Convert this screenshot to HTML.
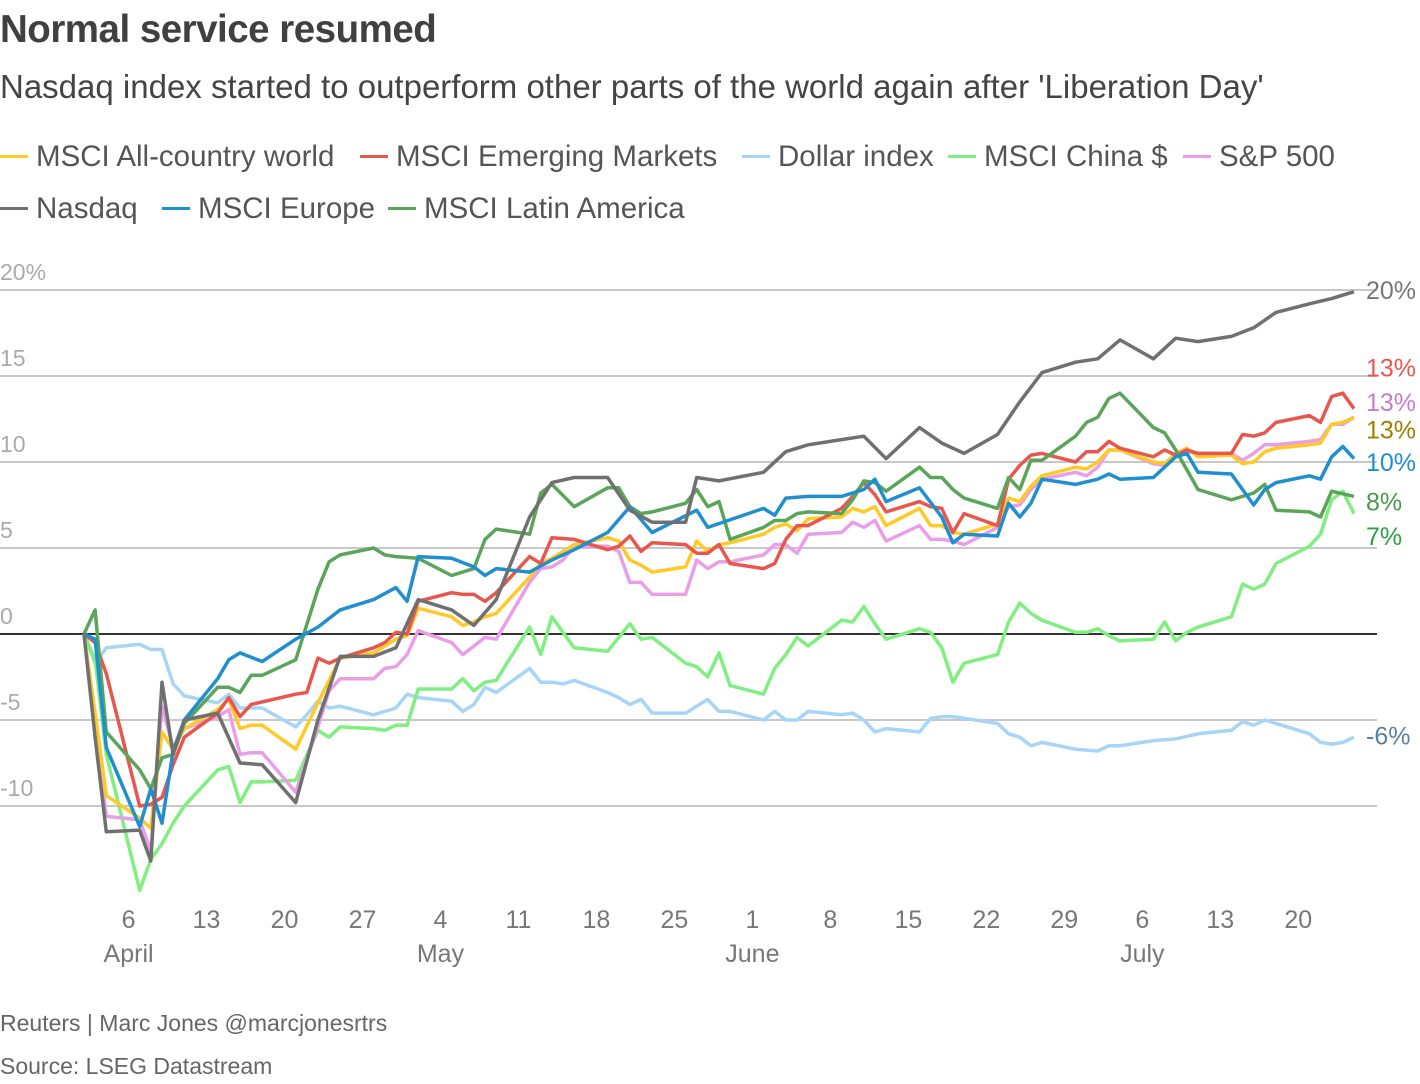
<!DOCTYPE html>
<html><head><meta charset="utf-8">
<style>
body{margin:0;background:#fff;font-family:"Liberation Sans",sans-serif;}
#wrap{position:relative;width:1420px;height:1084px;overflow:hidden;}
.t{position:absolute;white-space:nowrap;}
.leg{position:absolute;font-size:29.5px;color:#555;white-space:nowrap;}
.leg i{display:inline-block;width:28px;height:3px;vertical-align:middle;margin-right:8px;position:relative;top:-2px;}
</style></head>
<body>
<div id="wrap">
<div class="t" style="left:0;top:8px;font-size:38.5px;font-weight:bold;color:#404040;letter-spacing:-0.5px;">Normal service resumed</div>
<div class="t" style="left:0;top:68px;font-size:33px;color:#444;">Nasdaq index started to outperform other parts of the world again after 'Liberation Day'</div>
<div class="leg" style="left:0;top:140px;"><i style="background:#ffc928"></i>MSCI All-country world</div>
<div class="leg" style="left:360px;top:140px;"><i style="background:#e8574d"></i>MSCI Emerging Markets</div>
<div class="leg" style="left:742px;top:140px;"><i style="background:#a6d5f7"></i>Dollar index</div>
<div class="leg" style="left:948px;top:140px;"><i style="background:#80ee80"></i>MSCI China $</div>
<div class="leg" style="left:1183px;top:140px;"><i style="background:#ea9ee8"></i>S&amp;P 500</div>
<div class="leg" style="left:0;top:192px;"><i style="background:#707070"></i>Nasdaq</div>
<div class="leg" style="left:162px;top:192px;"><i style="background:#1f8fd0"></i>MSCI Europe</div>
<div class="leg" style="left:388px;top:192px;"><i style="background:#5aa55a"></i>MSCI Latin America</div>
<svg id="chart" width="1420" height="1084" style="position:absolute;left:0;top:0;"></svg>
<div class="t" style="left:0;top:1010px;font-size:23px;color:#666;">Reuters | Marc Jones @marcjonesrtrs</div>
<div class="t" style="left:0;top:1053px;font-size:23px;color:#666;">Source: LSEG Datastream</div>
</div>
<script>
const yTicks=[20,15,10,5,0,-5,-10];
const yTickLabels=["20%","15","10","5","0","-5","-10"];
const xTickDays=[4,11,18,25,32,39,46,53,60,67,74,81,88,95,102,109];
const xTickLabels=["6","13","20","27","4","11","18","25","1","8","15","22","29","6","13","20"];
const monthDays=[4,32,60,95];
const monthLabels=["April","May","June","July"];

const nasdaqDays=[0,1,2,5,6,7,8,9,12,14,16,19,21,23,26,28,30,33,35,37,40,42,44,47,49,51,54,55,57,61,63,65,68,70,72,75,77,79,82,84,86,89,91,93,96,98,100,103,105,107,110,112,114];
const nasdaqVals=[0,-6,-11.5,-11.4,-13.2,-2.8,-7,-5,-4.6,-7.5,-7.6,-9.8,-5,-1.3,-1.3,-0.8,2,1.4,0.5,2,6.8,8.8,9.1,9.1,7.2,6.5,6.5,9.1,8.9,9.4,10.6,11,11.3,11.5,10.2,12,11.1,10.5,11.6,13.5,15.2,15.8,16,17.1,16,17.2,17,17.3,17.8,18.7,19.2,19.5,19.9];

const latamDays=[0,1,2,5,6,7,8,9,12,13,14,15,16,19,21,22,23,26,27,28,30,33,35,36,37,39,40,41,42,44,47,48,49,50,51,54,55,56,57,58,61,62,63,64,65,68,69,70,71,72,75,76,77,78,79,82,83,84,85,86,89,90,91,92,93,96,97,98,100,103,105,106,107,110,111,112,114];
const latamVals=[0,1.4,-5.7,-7.9,-9,-7.2,-7,-5.2,-3.1,-3.1,-3.4,-2.4,-2.4,-1.5,2.6,4.2,4.6,5,4.6,4.5,4.4,3.4,3.8,5.5,6.1,5.9,5.8,8.2,8.7,7.4,8.5,8.5,7.4,7,7.1,7.6,8.4,7.4,7.7,5.5,6.2,6.6,6.6,7,7.1,7,7.8,8.9,8.8,8.3,9.7,9.1,9.1,8.4,7.9,7.3,9.1,8.4,10.1,10.1,11.5,12.3,12.6,13.7,14,12,11.7,10.7,8.4,7.8,8.2,8.7,7.2,7.1,6.8,8.3,8];

const europeDays=[0,1,2,5,6,7,8,9,12,13,14,16,19,21,23,26,28,29,30,33,35,36,37,40,42,44,47,49,51,55,56,61,62,63,65,68,70,71,72,75,77,78,79,82,83,84,85,86,89,91,92,93,96,98,99,100,103,105,106,107,110,111,112,113,114];
const europeVals=[0,-0.3,-6.6,-11.2,-9,-11,-6.8,-5,-2.6,-1.5,-1.1,-1.6,-0.3,0.4,1.4,2,2.7,1.9,4.5,4.4,3.9,3.4,3.8,3.6,4.3,4.9,5.9,7.4,5.9,7.2,6.2,7.3,6.9,7.9,8,8,8.4,9,7.7,8.5,6.8,5.3,5.8,5.7,7.6,6.8,7.6,9,8.7,9,9.3,9,9.1,10.3,10.5,9.4,9.3,7.5,8.4,8.8,9.2,9,10.3,10.9,10.2];

const emDays=[0,1,2,5,6,7,8,9,12,13,14,15,19,20,21,22,23,26,27,28,29,30,33,34,35,36,37,40,41,42,44,47,48,49,50,51,54,55,56,57,58,61,62,63,64,65,68,69,70,71,72,75,76,77,78,79,82,83,84,85,86,89,90,91,92,93,96,97,98,99,100,103,104,105,106,107,110,111,112,113,114];
const emVals=[0,-0.5,-2.3,-10,-9.9,-9.5,-7.6,-6,-4.6,-3.7,-4.8,-4.1,-3.5,-3.4,-1.4,-1.7,-1.4,-0.8,-0.5,0.1,0,1.9,2.4,2.3,2.3,1.9,2.4,4.5,4.1,5.6,5.5,4.9,5.1,5.7,4.8,5.3,5.2,4.7,4.7,5.2,4.1,3.8,4.1,5.5,6.3,6.3,7.3,8,8.8,8.1,7.1,7.7,7.4,7.3,5.9,7,6.3,9,9.8,10.4,10.5,10,10.6,10.6,11.2,10.8,10.3,10.7,10.4,10.7,10.5,10.5,11.6,11.5,11.7,12.3,12.7,12.3,13.8,14,13.1];

const acwiDays=[0,1,2,5,6,7,8,9,12,13,14,15,16,19,21,23,26,28,29,30,33,34,35,36,37,40,41,42,44,47,48,49,50,51,54,55,56,57,58,61,62,63,64,65,68,69,70,71,72,75,76,77,78,79,82,83,84,85,86,89,90,91,92,93,96,97,98,99,100,103,104,105,106,107,110,111,112,113,114];
const acwiVals=[0,-4.6,-9.4,-10.7,-11.3,-5.7,-6.7,-5.5,-4.4,-3.8,-5.5,-5.3,-5.3,-6.7,-4,-1.4,-1.1,-0.3,-0.1,1.5,1,0.5,0.7,1,1.2,3.3,4.1,4.4,5.2,5.6,5.4,4.3,4,3.6,3.9,5.4,4.8,5.2,5.3,5.8,6.2,6.4,6,6.7,6.8,7.3,7.1,7.4,6.3,7.3,6.3,6.3,5.9,5.8,6.4,7.9,7.7,8.6,9.2,9.7,9.6,10,10.7,10.7,10,9.9,10.5,10.8,10.3,10.4,9.9,10,10.6,10.8,11,11.1,12.2,12.3,12.6];

const spDays=[0,2,5,6,7,8,9,12,13,14,15,16,19,21,22,23,26,27,28,29,30,33,34,35,36,37,40,41,42,43,44,47,48,49,50,51,54,55,56,57,58,61,62,63,64,65,68,69,70,71,72,75,76,77,78,79,82,83,84,85,86,89,90,91,92,93,96,97,98,99,100,103,104,105,106,107,110,111,112,113,114];
const spVals=[0,-10.6,-10.8,-12.6,-4.2,-6.6,-5.5,-4.8,-4.4,-7,-6.9,-6.9,-9.2,-5.4,-3.3,-2.6,-2.6,-2,-1.9,-1.2,0.2,-0.5,-1.2,-0.7,-0.2,-0.3,3,3.8,3.9,4.3,5.1,5.1,4.8,3,3,2.3,2.3,4.3,3.8,4.2,4.2,4.6,5.2,5.2,4.7,5.8,5.9,6.5,6.2,6.6,5.4,6.3,5.5,5.5,5.4,5.2,6.2,7.4,7.5,8.4,9,9.4,9.2,9.7,10.7,10.7,9.9,9.8,10.4,10.6,10.5,10.5,10.1,10.5,11,11,11.2,11.3,12.2,12.2,12.6];

const chinaDays=[0,1,2,5,6,7,8,9,12,13,14,15,16,19,21,22,23,26,27,28,29,30,33,34,35,36,37,40,41,42,44,47,49,50,51,54,55,56,57,58,61,62,63,64,65,68,69,70,71,72,75,76,77,78,79,82,83,84,85,86,89,90,91,92,93,96,97,98,99,100,103,104,105,106,107,110,111,112,113,114];
const chinaVals=[0,-1.5,-7,-14.9,-13.1,-12.2,-11,-10,-7.9,-7.7,-9.8,-8.6,-8.6,-8.5,-5.6,-6,-5.4,-5.5,-5.6,-5.3,-5.3,-3.2,-3.2,-2.6,-3.3,-2.8,-2.7,0.4,-1.2,1,-0.8,-1,0.6,-0.3,-0.2,-1.7,-1.9,-2.5,-1.1,-3,-3.5,-2,-1.2,-0.2,-0.7,0.8,0.7,1.6,0.6,-0.3,0.3,0.1,-0.8,-2.8,-1.7,-1.2,0.7,1.8,1.2,0.8,0.1,0.1,0.3,-0.1,-0.4,-0.3,0.7,-0.4,0.1,0.4,1,2.9,2.6,2.9,4.1,5.1,5.8,7.8,8.3,7];

const dollarDays=[0,1,2,5,6,7,8,9,12,13,14,15,16,19,20,21,22,23,26,28,29,30,33,34,35,36,37,40,41,42,43,44,47,48,49,50,51,54,55,56,57,58,61,62,63,64,65,68,69,70,71,72,75,76,77,78,79,82,83,84,85,86,89,91,92,93,96,98,100,103,104,105,106,107,110,111,112,113,114];
const dollarVals=[0,-1.7,-0.8,-0.6,-0.9,-0.9,-2.9,-3.6,-4,-3.5,-4.3,-4.3,-4.3,-5.4,-4.7,-3.9,-4.3,-4.2,-4.7,-4.3,-3.5,-3.7,-3.9,-4.5,-4.1,-3.1,-3.4,-2,-2.8,-2.8,-2.9,-2.7,-3.4,-3.7,-4.1,-3.8,-4.6,-4.6,-4.2,-3.8,-4.5,-4.5,-5,-4.5,-5,-5,-4.5,-4.7,-4.6,-5,-5.7,-5.5,-5.7,-4.9,-4.8,-4.8,-4.9,-5.2,-5.8,-6,-6.5,-6.3,-6.7,-6.8,-6.5,-6.5,-6.2,-6.1,-5.8,-5.6,-5.1,-5.3,-5,-5.2,-5.8,-6.3,-6.4,-6.3,-6];

const endLabels=["20%","13%","13%","13%","10%","8%","7%","-6%"];
const endLabelY=[20,15.5,13.5,11.9,10,7.7,5.7,-5.9];

const svg=document.getElementById('chart');
const NS='http://www.w3.org/2000/svg';
const X0=84, DX=11.14, Y0=634, DY=17.2;
function xs(d){return X0+d*DX;}
function ys(v){return Y0-v*DY;}
function mk(tag,attrs){const e=document.createElementNS(NS,tag);for(const k in attrs)e.setAttribute(k,attrs[k]);svg.appendChild(e);return e;}

yTicks.forEach((v,i)=>{
  if(v!==0){
    const g=mk('line',{x1:0,x2:1377,y1:ys(v),y2:ys(v),stroke:'#c8c8c8','stroke-width':2});
    
    
  }
  const t=mk('text',{x:0,y:ys(v)-10,'font-size':23,fill:'#aaa','font-family':'Liberation Sans, sans-serif'});
  t.textContent=yTickLabels[i];
  
  
});
xTickDays.forEach((d,i)=>{
  const t=mk('text',{x:xs(d),y:928,'font-size':25,fill:'#777','text-anchor':'middle','font-family':'Liberation Sans, sans-serif'});
  t.textContent=xTickLabels[i];
  
  
});
monthDays.forEach((d,i)=>{
  const t=mk('text',{x:xs(d),y:962,'font-size':25,fill:'#777','text-anchor':'middle','font-family':'Liberation Sans, sans-serif'});
  t.textContent=monthLabels[i];
  
  
});

const series=[
 ['dollar-line',dollarDays,dollarVals,'#a6d5f7'],
 ['china-line',chinaDays,chinaVals,'#80ee80'],
 ['sp500-line',spDays,spVals,'#ea9ee8'],
 ['acwi-line',acwiDays,acwiVals,'#ffc928'],
 ['em-line',emDays,emVals,'#e8574d'],
 ['latam-line',latamDays,latamVals,'#5aa55a'],
 ['europe-line',europeDays,europeVals,'#1f8fd0'],
 ['nasdaq-line',nasdaqDays,nasdaqVals,'#707070']
];
const zl=mk('line',{x1:0,x2:1377,y1:ys(0),y2:ys(0),stroke:'#333','stroke-width':2});


series.forEach(s=>{
  const pts=s[1].map((d,i)=>xs(d).toFixed(1)+','+ys(s[2][i]).toFixed(1)).join(' ');
  const p=mk('polyline',{points:pts,fill:'none',stroke:s[3],'stroke-width':3.5,'stroke-linejoin':'round'});
  
  
});
const endColors=['#777','#e8574d','#c77ec6','#a07f00','#1f8fd0','#4a9a4a','#2e9e3e','#5a7fa0'];
endLabels.forEach((l,i)=>{
  const t=mk('text',{x:1366,y:ys(endLabelY[i])+9,'font-size':25,fill:endColors[i],'font-family':'Liberation Sans, sans-serif'});
  t.textContent=l;
  
  
});
</script>
</body></html>
